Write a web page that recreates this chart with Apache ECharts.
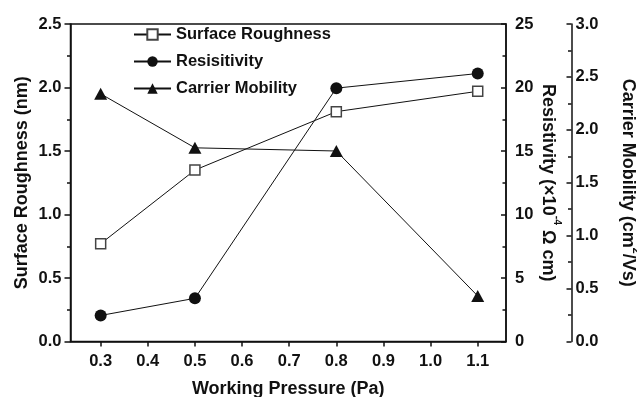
<!DOCTYPE html>
<html>
<head>
<meta charset="utf-8">
<script src="https://cdn.jsdelivr.net/npm/echarts@6/dist/echarts.min.js"></script>
<style>
  html, body { margin: 0; padding: 0; background: #fff; }
  #chart { width: 637px; height: 397px; }
</style>
</head>
<body>
<div id="chart"></div>
<script>
// Working pressure (Pa) for each sample
const pressures = [0.3, 0.5, 0.8, 1.1];
// Surface roughness (nm)
const roughness = [0.77, 1.35, 1.81, 1.97];
// Resistivity (x10^-4 ohm cm)
const resistivity = [2.05, 3.4, 19.95, 21.1];
// Carrier mobility (cm^2/Vs)
const mobility = [2.34, 1.83, 1.80, 0.43];
// Tick positions on the pressure axis
const xTicks = [0.3, 0.4, 0.5, 0.6, 0.7, 0.8, 0.9, 1.0, 1.1];

const FONT = '"Liberation Sans", Arial, sans-serif';
const black = '#111';

function pairs(ys) { return pressures.map((x, i) => [x, ys[i]]); }

const chart = echarts.init(document.getElementById('chart'), null, { renderer: 'canvas' });

const tickLabel = { color: black, fontFamily: FONT, fontWeight: 'bold', fontSize: 16.5 };
const nameStyle = { color: black, fontFamily: FONT, fontWeight: 'bold', fontSize: 18 };
const lineStyle = { color: black, width: 1.5 };
const richName = {
  a: { color: black, fontFamily: FONT, fontWeight: 'bold', fontSize: 18, lineHeight: 23, verticalAlign: 'bottom' },
  s: { color: black, fontFamily: FONT, fontWeight: 'bold', fontSize: 10.5, lineHeight: 23, verticalAlign: 'top' }
};

chart.setOption({
  animation: false,
  backgroundColor: '#fff',
  grid: {
    left: 70.5, right: 131, top: 24, bottom: 55.5,
    outerBoundsMode: 'none', containLabel: false,
    show: true, borderColor: black, borderWidth: 1.5
  },
  legend: {
    orient: 'vertical',
    left: 133,
    top: 26,
    padding: 0,
    itemWidth: 37,
    itemHeight: 13,
    itemGap: 10,
    textStyle: { color: black, fontFamily: FONT, fontWeight: 'bold', fontSize: 16.5 },
    data: ['Surface Roughness', 'Resisitivity', 'Carrier Mobility']
  },
  xAxis: {
    type: 'value',
    min: 0.236,
    max: 1.16,
    name: 'Working Pressure (Pa)',
    nameLocation: 'middle',
    nameGap: 39,
    nameMoveOverlap: false,
    nameTextStyle: nameStyle,
    axisLine: { lineStyle },
    axisTick: { customValues: xTicks, length: 5, lineStyle },
    axisLabel: Object.assign({ customValues: xTicks, margin: 11, formatter: v => v.toFixed(1) }, tickLabel),
    splitLine: { show: false }
  },
  yAxis: [
    {
      type: 'value', position: 'left', min: 0, max: 2.5, interval: 0.5,
      name: 'Surface Roughness (nm)', nameLocation: 'middle', nameRotate: 90, nameGap: 39.5,
      nameMoveOverlap: false,
      nameTextStyle: nameStyle,
      axisLine: { show: true, lineStyle },
      axisTick: { show: true, length: 6, lineStyle },
      minorTick: { show: true, splitNumber: 2, length: 3.5, lineStyle },
      axisLabel: Object.assign({ margin: 9, formatter: v => v.toFixed(1) }, tickLabel),
      splitLine: { show: false }
    },
    {
      type: 'value', position: 'right', min: 0, max: 25, interval: 5,
      name: '{a|Resistivity (×10}{s|-4}{a| Ω cm)}', nameLocation: 'middle', nameRotate: -90, nameGap: 33,
      nameMoveOverlap: false,
      nameTextStyle: Object.assign({}, nameStyle, { rich: richName }),
      axisLine: { show: true, lineStyle },
      axisTick: { show: true, inside: true, length: 5, lineStyle },
      minorTick: { show: true, splitNumber: 2, length: 3.5, lineStyle },
      axisLabel: Object.assign({ margin: 9 }, tickLabel),
      splitLine: { show: false }
    },
    {
      type: 'value', position: 'right', offset: 65.5, min: 0, max: 3, interval: 0.5,
      name: '{a|Carrier Mobility (cm}{s|2}{a|/Vs)}', nameLocation: 'middle', nameRotate: -90, nameGap: 47,
      nameMoveOverlap: false,
      nameTextStyle: Object.assign({}, nameStyle, { rich: richName }),
      axisLine: { show: true, lineStyle },
      axisTick: { show: true, inside: true, length: 5, lineStyle },
      minorTick: { show: true, splitNumber: 2, length: 3.5, lineStyle },
      axisLabel: Object.assign({ margin: 4, formatter: v => v.toFixed(1) }, tickLabel),
      splitLine: { show: false }
    }
  ],
  series: [
    {
      name: 'Surface Roughness', type: 'line', yAxisIndex: 0, data: pairs(roughness),
      symbol: 'rect', symbolSize: 10,
      itemStyle: { color: '#fff', borderColor: '#444', borderWidth: 1.5 },
      lineStyle: { color: black, width: 1 }, z: 3
    },
    {
      name: 'Resisitivity', type: 'line', yAxisIndex: 1, data: pairs(resistivity),
      symbol: 'circle', symbolSize: 12,
      itemStyle: { color: black, borderWidth: 0 },
      lineStyle: { color: black, width: 1 }, z: 3
    },
    {
      name: 'Carrier Mobility', type: 'line', yAxisIndex: 2, data: pairs(mobility),
      symbol: 'triangle', symbolSize: [13, 12],
      itemStyle: { color: black, borderWidth: 0 },
      lineStyle: { color: black, width: 1 }, z: 3
    }
  ]
});
</script>
</body>
</html>
